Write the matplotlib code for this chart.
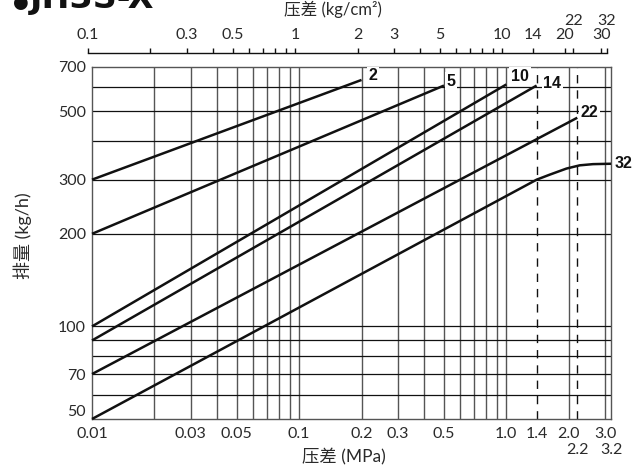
import matplotlib
matplotlib.use("Agg")
import matplotlib.pyplot as plt
from matplotlib.ticker import FixedLocator, FixedFormatter, NullLocator
from matplotlib.transforms import blended_transform_factory

# ---------------- data ----------------
series_names = ["2", "5", "10", "14", "22", "32"]
p_2 = [0.01, 0.2]
q_2 = [300, 633]
p_5 = [0.01, 0.5]
q_5 = [200, 607]
p_10 = [0.01, 1.0]
q_10 = [100, 612]
p_14 = [0.01, 1.4]
q_14 = [90, 607]
p_22 = [0.01, 2.2]
q_22 = [70, 477]
p_32 = [0.01, 1.4, 1.62, 1.95, 2.26, 2.62, 3.2]
q_32 = [50, 300, 311.5, 326, 334, 337, 338]

x_ticks = [0.01, 0.03, 0.05, 0.1, 0.2, 0.3, 0.5, 1.0, 1.4, 2.0, 3.0]
x_ticklabels = ["0.01", "0.03", "0.05", "0.1", "0.2", "0.3", "0.5", "1.0", "1.4", "2.0", "3.0"]
x_ticks2 = [2.2, 3.2]
x_ticklabels2 = ["2.2", "3.2"]
y_ticks = [50, 70, 100, 200, 300, 500, 700]
y_ticklabels = ["50", "70", "100", "200", "300", "500", "700"]

v_grid = [0.02, 0.03, 0.04, 0.05, 0.06, 0.07, 0.08, 0.09,
          0.1, 0.2, 0.3, 0.4, 0.5, 0.6, 0.7, 0.8, 0.9, 1.0, 2.0, 3.0]
v_dashed = [1.4, 2.2]
h_grid = [60, 70, 80, 90, 100, 200, 300, 400, 500, 600]

top_ticks = [0.1, 0.2, 0.3, 0.4, 0.5, 0.6, 0.7, 0.8, 0.9, 1, 2, 3, 4, 5, 6, 7, 8, 9,
             10, 14, 20, 22, 30, 32]
top_labeled = {0.1: "0.1", 0.3: "0.3", 0.5: "0.5", 1: "1", 2: "2", 3: "3", 5: "5",
               10: "10", 14: "14", 20: "20", 30: "30"}
top_labels2 = [22, 32]

# ---------------- figure ----------------
W, H = 637, 467
fig = plt.figure(figsize=(W / 100, H / 100), dpi=100)
fig.patch.set_facecolor("white")

FONT = ["Lato", "Noto Sans CJK SC", "DejaVu Sans"]
TXT = "#2a2a2a"

def fx(px):
    return px / W

def fy(py):
    return 1 - py / H

left, right, top, bottom = 92, 611, 66.5, 419
ax = fig.add_axes([fx(left), fy(bottom), (right - left) / W, (bottom - top) / H])
ax.set_xscale("log")
ax.set_yscale("log")
ax.set_xlim(0.01, 3.2)
ax.set_ylim(50, 700)

for v in v_grid:
    ax.axvline(v, color="#555555", lw=1.0, zorder=1)
for v in v_dashed:
    ax.axvline(v, color="#111111", lw=1.0, ls=(0, (6, 5)), zorder=1)
for h in h_grid:
    ax.axhline(h, color="#111111", lw=0.9, zorder=1)

for sp in ax.spines.values():
    sp.set_color("#555555")
    sp.set_linewidth(1.0)

curves = [(p_2, q_2), (p_5, q_5), (p_10, q_10), (p_14, q_14), (p_22, q_22), (p_32, q_32)]
offsets = [(5, 3), (2, 3), (3.4, 5.8), (4.8, 1.8), (2.4, 3.5), (2.9, 0)]
for name, (ps, qs), off in zip(series_names, curves, offsets):
    ax.plot(ps, qs, color="#111111", lw=1.8, solid_capstyle="butt", zorder=3, clip_on=False)
    ax.annotate(name, xy=(ps[-1], qs[-1]), xytext=off, textcoords="offset points",
                ha="left", va="center", fontsize=11.5, fontweight="bold",
                family=["Liberation Sans", "DejaVu Sans"], color="#111111",
                bbox=dict(boxstyle="square,pad=0.1", fc="white", ec="none"),
                annotation_clip=False, zorder=4)

ax.xaxis.set_major_locator(FixedLocator(x_ticks))
ax.xaxis.set_major_formatter(FixedFormatter(x_ticklabels))
ax.xaxis.set_minor_locator(NullLocator())
ax.yaxis.set_major_locator(FixedLocator(y_ticks))
ax.yaxis.set_major_formatter(FixedFormatter(y_ticklabels))
ax.yaxis.set_minor_locator(NullLocator())
ax.tick_params(axis="x", length=0, pad=5.5, labelsize=11.5, labelcolor=TXT)
ax.tick_params(axis="y", length=0, pad=4.3, labelsize=11.5, labelcolor=TXT)
for lab in ax.get_xticklabels() + ax.get_yticklabels():
    lab.set_family(FONT)
ylabs = ax.get_yticklabels()
ylabs[0].set_va("bottom")

trb = blended_transform_factory(ax.transData, fig.transFigure)
for v, s in zip(x_ticks2, x_ticklabels2):
    ax.text(v, fy(450.5), s, transform=trb, ha="center", va="center",
            fontsize=11.5, color=TXT, family=FONT)

# ---------------- top axis (kg/cm2) ----------------
tl, tr, ty = 88, 607, 53
axt = fig.add_axes([fx(tl), fy(ty + 1), (tr - tl) / W, 1 / H])
axt.set_xscale("log")
axt.set_xlim(0.1, 32)
axt.patch.set_visible(False)
for k in ["left", "right", "bottom"]:
    axt.spines[k].set_visible(False)
axt.spines["top"].set_color("#111111")
axt.spines["top"].set_linewidth(1.0)
axt.set_yticks([])
axt.xaxis.tick_top()
axt.xaxis.set_major_locator(FixedLocator(top_ticks))
axt.xaxis.set_major_formatter(FixedFormatter([top_labeled.get(t, "") for t in top_ticks]))
axt.xaxis.set_minor_locator(NullLocator())
axt.tick_params(axis="x", direction="out", length=3.6, width=1.0, color="#111111",
                pad=4.0, labelsize=11.5, labelcolor=TXT)
for lab in axt.get_xticklabels():
    lab.set_family(FONT)
trt = blended_transform_factory(axt.transData, fig.transFigure)
for v in top_labels2:
    axt.text(v, fy(21), str(v), transform=trt, ha="center", va="center",
             fontsize=11.5, color=TXT, family=FONT)

# ---------------- axis titles ----------------
fig.text(fx(333), fy(9), "压差 (kg/cm²)", ha="center", va="center", fontsize=12,
         color=TXT, family=FONT)
fig.text(fx(344), fy(457), "压差 (MPa)", ha="center", va="center", fontsize=12.5,
         color=TXT, family=FONT)
fig.text(fx(23), fy(236), "排量 (kg/h)", ha="center", va="center", rotation=90,
         fontsize=13, color=TXT, family=FONT)

# title (cut at top in the reference)
fig.text(fx(13), fy(8), "●", ha="left", va="baseline", fontsize=13,
         color="#111111", family=["DejaVu Sans"])
fig.text(fx(30), fy(8), "JH3S-X", ha="left", va="baseline", fontsize=24,
         fontweight="bold", color="#111111", family=["DejaVu Sans"])

fig.savefig("out.png", dpi=100, facecolor="white")
